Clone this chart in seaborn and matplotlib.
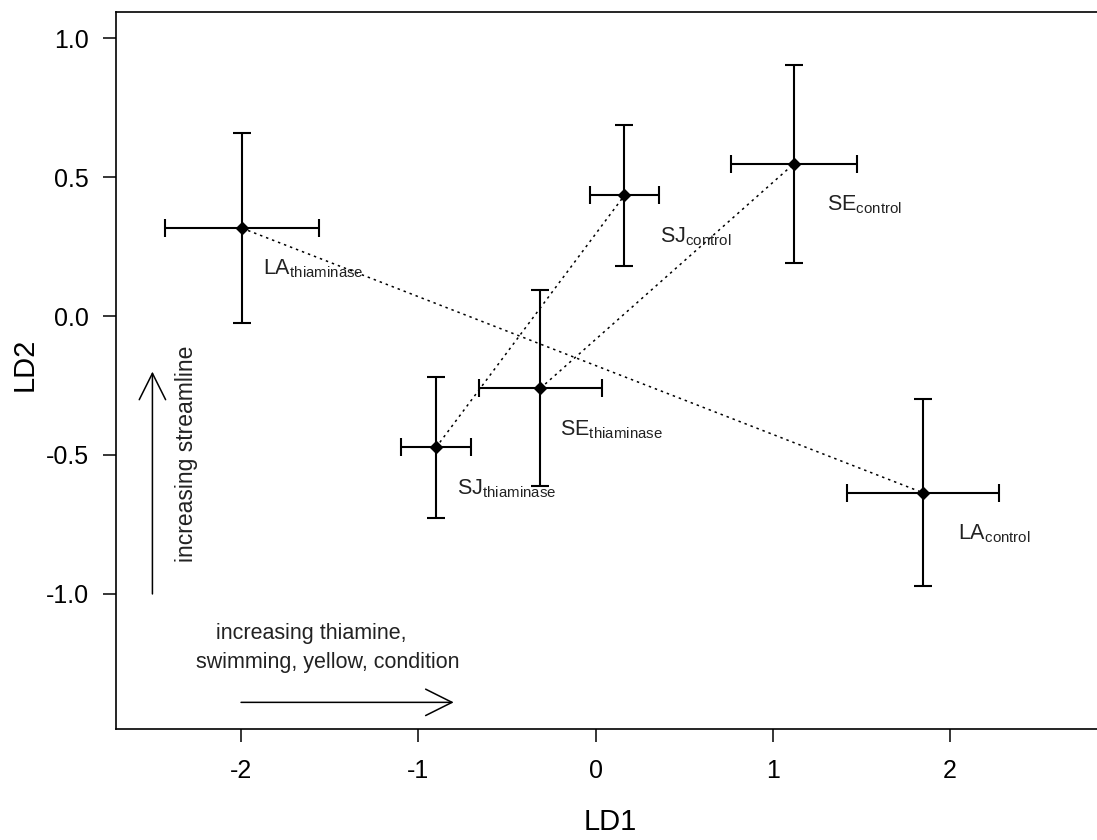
import matplotlib
matplotlib.use("Agg")
import matplotlib.pyplot as plt
import seaborn as sns
import pandas as pd

# ---- data ----
group = ["LA", "SJ", "SE", "SJ", "SE", "LA"]
treatment = ["thiaminase", "thiaminase", "thiaminase", "control", "control", "control"]
ld1 = [-1.994, -0.900, -0.311, 0.163, 1.118, 1.848]
ld1_err = [0.434, 0.195, 0.348, 0.195, 0.355, 0.430]
ld2 = [0.316, -0.473, -0.260, 0.434, 0.547, -0.636]
ld2_err = [0.342, 0.252, 0.352, 0.255, 0.356, 0.337]

x_ticks = [-2, -1, 0, 1, 2]
y_ticks = [1.0, 0.5, 0.0, -0.5, -1.0]
y_ticklabels = ["1.0", "0.5", "0.0", "-0.5", "-1.0"]

df = pd.DataFrame({"group": group, "treatment": treatment,
                   "LD1": ld1, "LD2": ld2, "xerr": ld1_err, "yerr": ld2_err})

sns.set_theme(style="ticks")
plt.rcParams["font.family"] = ["Liberation Sans", "DejaVu Sans"]
plt.rcParams["axes.unicode_minus"] = False
plt.rcParams["mathtext.fontset"] = "custom"
plt.rcParams["mathtext.rm"] = "Liberation Sans"

fig = plt.figure(figsize=(10.97, 8.40), dpi=100)
ax = fig.add_axes([0.1055, 0.1321, 0.9009, 0.854])

# dotted connections between treatments of the same group
for g in ["LA", "SJ", "SE"]:
    sub = df[df["group"] == g]
    ax.plot(sub["LD1"], sub["LD2"], color="black", lw=1.1,
            linestyle=(0, (1.6, 2.6)), zorder=1)

# error bars
ax.errorbar(df["LD1"], df["LD2"], xerr=df["xerr"], yerr=df["yerr"],
            fmt="none", ecolor="black", elinewidth=1.5, capsize=6.5,
            capthick=1.5, zorder=2)

# points
sns.scatterplot(data=df, x="LD1", y="LD2", marker="D", color="black",
                s=50, edgecolor="black", linewidth=0, ax=ax, zorder=3)

# labels
for _, r in df.iterrows():
    ax.annotate(r["group"] + r"$\mathregular{_{" + r["treatment"] + r"}}$",
                xy=(r["LD1"], r["LD2"]), xytext=(71, -41),
                textcoords="offset pixels", ha="center", va="center",
                fontsize=15.5, color="#222222")

# direction arrows and text
arrow_kw = dict(arrowstyle="->,head_length=19,head_width=9.5",
                mutation_scale=1, lw=1.1, color="black",
                shrinkA=0, shrinkB=0)
ax.annotate("", xy=(-2.5, -0.2), xytext=(-2.5, -1.0), arrowprops=arrow_kw)
ax.annotate("", xy=(-0.8, -1.39), xytext=(-2.0, -1.39), arrowprops=arrow_kw)
ax.text(-2.306, -0.494, "increasing streamline", rotation=90,
        ha="center", va="center", fontsize=16.5, color="#222222")
ax.text(-1.605, -1.144, "increasing thiamine,", ha="center", va="center",
        fontsize=15.5, color="#222222")
ax.text(-1.509, -1.248, "swimming, yellow, condition", ha="center",
        va="center", fontsize=15.5, color="#222222")

ax.set_xlim(-2.707, 2.869)
ax.set_ylim(-1.486, 1.095)
ax.set_xticks(x_ticks)
ax.set_xticklabels([str(t) for t in x_ticks])
ax.set_yticks(y_ticks)
ax.set_yticklabels(y_ticklabels)
ax.tick_params(axis="both", length=9.5, width=1.1, labelsize=18,
               color="black", labelcolor="black")
ax.tick_params(axis="x", pad=12)
ax.tick_params(axis="y", pad=10)
for name, s in ax.spines.items():
    s.set_visible(name != "right")
    s.set_color("black")
    s.set_linewidth(1.2)

ax.set_xlabel("LD1", fontsize=21, color="black")
ax.set_ylabel("LD2", fontsize=21, color="black")
ax.xaxis.set_label_coords(0.5, -0.110)
ax.yaxis.set_label_coords(-0.078, 0.508)

fig.savefig("out.png", dpi=100)
